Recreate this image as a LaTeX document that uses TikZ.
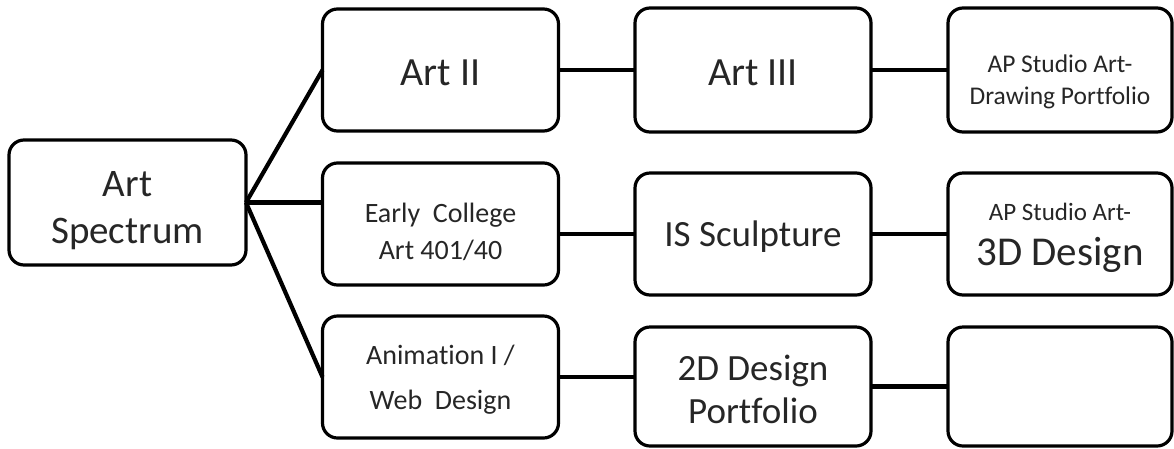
\documentclass[tikz,border=0pt]{standalone}
\usepackage{fontspec}
\setmainfont[Ligatures=NoCommon]{Carlito}
\newcommand\setfs[2]{\fontsize{#1}{#2}\selectfont}
\begin{document}
\begin{tikzpicture}[x=1pt,y=-1pt,
  box/.style={draw, line width=3.2pt, rounded corners=15pt, inner sep=0pt,
    outer sep=0pt},
  label text/.style={inner sep=0pt, align=center, text=black!85},
  link/.style={line width=4.2pt},
  wide/.style={minimum width=236pt},
  narrow/.style={minimum width=224pt}]
\useasboundingbox (0,0) rectangle (1174,448);

% boxes
\node[box, minimum width=237pt, minimum height=125pt] (spec) at (127.5,202.5) {};

\node[box, wide, minimum height=122pt] (art2) at (440.5,70) {};
\node[box, wide, minimum height=124pt] (art3) at (753,70) {};
\node[box, narrow, minimum height=124pt] (apdraw) at (1060,70) {};

\node[box, wide, minimum height=122pt] (early) at (440.5,224) {};
\node[box, wide, minimum height=122pt] (sculpt) at (753,234) {};
\node[box, narrow, minimum height=122pt] (ap3d) at (1060,234) {};

\node[box, wide, minimum height=122pt] (anim) at (440.5,377) {};
\node[box, wide, minimum height=119pt] (design) at (753,386.5) {};
\node[box, narrow, minimum height=119pt] (blank) at (1060,386.5) {};

% box texts
\node[label text, font=\setfs{39}{47}, yshift=-8pt] (spec-t) at (spec) {Art\\Spectrum};
\node[label text, font=\setfs{40}{48}, yshift=-3pt] (art2-t) at (art2) {Art II};
\node[label text, font=\setfs{40}{48}, yshift=-3pt] (art3-t) at (art3) {Art III};
\node[label text, font=\setfs{25.5}{32}, yshift=-12pt] (apdraw-t) at (apdraw)
  {AP Studio Art-\\Drawing Portfolio};
\node[label text, font=\setfs{28}{37}, yshift=-8pt] (early-t) at (early)
  {Early~~College\\Art 401/40};
\node[label text, font=\setfs{37}{45}, yshift=-3pt] (sculpt-t) at (sculpt) {IS Sculpture};
\node[label text, font=\setfs{25}{45}, yshift=-4pt] (ap3d-t) at (ap3d)
  {AP Studio Art-\\{\setfs{41}{45}3D Design}};
\node[label text, font=\setfs{28}{45}, yshift=-3pt] (anim-t) at (anim)
  {Animation I /\\Web~~Design};
\node[label text, font=\setfs{37}{43}, yshift=-3pt] (design-t) at (design)
  {2D Design\\Portfolio};

% branches from the hub
\draw[link] (spec.east) -- (art2.west);
\draw[link] (spec.east) -- (spec.east -| early.west);
\draw[link] (spec.east) -- (anim.west);

% row links
\draw[link] (art2.east) -- (art3.west);
\draw[link] (art3.east) -- (apdraw.west);
\draw[link] (sculpt.west -| early.east) -- (sculpt.west);
\draw[link] (sculpt.east) -- (ap3d.west);
\draw[link] (anim.east) -- (anim.east -| design.west);
\draw[link] (design.east) -- (blank.west);
\end{tikzpicture}
\end{document}
